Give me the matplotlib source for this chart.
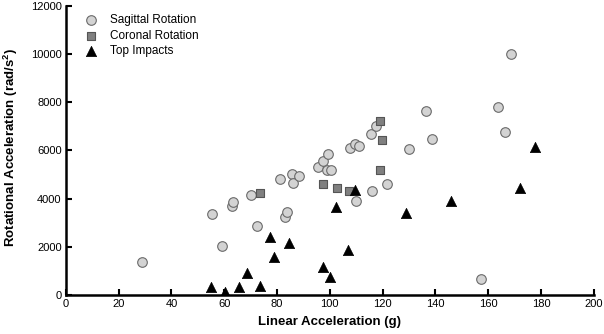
import matplotlib
matplotlib.use("Agg")
import matplotlib.pyplot as plt

# ============================================
# Data
# ============================================
sag_x = [29.0, 55.3, 59.2, 63.0, 63.5, 70.0, 72.3, 81.2, 83.1, 83.8, 85.5, 85.9,
         88.5, 95.7, 97.5, 99.4, 99.0, 100.6, 107.5, 109.5, 111.1, 115.8, 117.4,
         109.8, 116.0, 121.8, 130.0, 136.5, 138.9, 157.3, 163.8, 166.2, 168.6]
sag_y = [1370, 3350, 2050, 3680, 3850, 4170, 2880, 4800, 3230, 3450, 5010, 4650,
         4930, 5320, 5550, 5860, 5190, 5180, 6100, 6280, 6190, 6670, 7000,
         3900, 4320, 4620, 6060, 7630, 6480, 650, 7810, 6780, 10020]

cor_x = [73.7, 97.5, 102.8, 107.3, 119.1, 119.8, 119.2]
cor_y = [4220, 4620, 4440, 4320, 5180, 6450, 7210]

top_x = [54.9, 60.2, 65.7, 68.6, 73.6, 77.4, 79.0, 84.7, 97.6, 100.1, 102.4,
         106.9, 109.7, 129.0, 145.8, 172.2, 177.8]
top_y = [320, 110, 330, 900, 390, 2400, 1580, 2150, 1180, 730, 3650,
         1850, 4350, 3400, 3890, 4460, 6150]

x_ticks = list(range(0, 201, 20))
y_ticks = list(range(0, 12001, 2000))

# ============================================
# Plot
# ============================================
plt.rcParams["font.family"] = ["Liberation Sans", "DejaVu Sans"]
plt.rcParams["mathtext.fontset"] = "custom"
plt.rcParams["mathtext.rm"] = "Liberation Sans"
plt.rcParams["mathtext.bf"] = "Liberation Sans:bold"

fig = plt.figure(figsize=(6.04, 3.34), dpi=100)
ax = fig.add_axes([0.109, 0.117, 0.874, 0.865])

ax.scatter(sag_x, sag_y, s=48, marker="o", facecolor="#d3d3d3",
           edgecolor="#6a6a6a", linewidth=0.8, label="Sagittal Rotation", zorder=3)
ax.scatter(cor_x, cor_y, s=38, marker="s", facecolor="#808080",
           edgecolor="#555555", linewidth=0.8, label="Coronal Rotation", zorder=3)
ax.scatter(top_x, top_y, s=55, marker="^", facecolor="black",
           edgecolor="black", linewidth=0.5, label="Top Impacts", zorder=3)

ax.set_xlim(0, 200)
ax.set_ylim(0, 12000)
ax.set_xticks(x_ticks)
ax.set_yticks(y_ticks)
ax.tick_params(direction="in", length=4, width=1.5, labelsize=8, pad=3)

for side in ["top", "right"]:
    ax.spines[side].set_visible(False)
for side in ["left", "bottom"]:
    ax.spines[side].set_linewidth(1.8)

ax.set_xlabel("Linear Acceleration (g)", fontsize=9.5, fontweight="bold", labelpad=5)
ax.set_ylabel(r"Rotational Acceleration (rad/s$\mathbf{^2}$)", fontsize=9.5,
              fontweight="bold")
ax.yaxis.set_label_coords(-0.086, 0.51)

ax.legend(loc="upper left", frameon=False, fontsize=8.5, handletextpad=0.6,
          borderaxespad=0.3, labelspacing=0.3, bbox_to_anchor=(0.01, 1.0))

fig.savefig("out.png", dpi=100)
